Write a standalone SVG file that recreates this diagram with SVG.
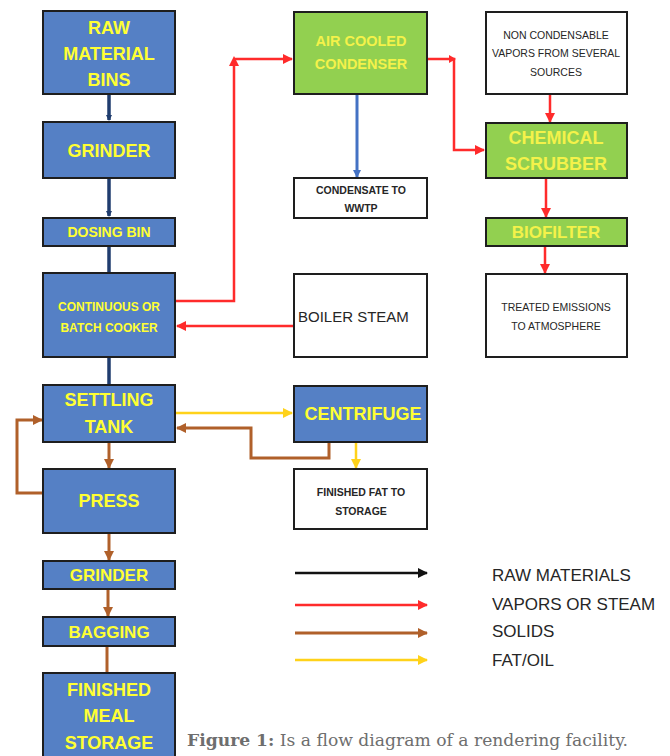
<svg xmlns="http://www.w3.org/2000/svg" width="670" height="756" viewBox="0 0 670 756">
<defs>
<style>
.bb{fill:#5580c5;stroke:#1e1e1e;stroke-width:2}
.gb{fill:#92d050;stroke:#1e1e1e;stroke-width:2}
.wb{fill:#ffffff;stroke:#1e1e1e;stroke-width:2}
.yt{font-family:"Liberation Sans",Arial,sans-serif;font-weight:bold;fill:#ffff33;text-anchor:middle}
.gt{font-family:"Liberation Sans",Arial,sans-serif;font-weight:bold;fill:#f4f24a;text-anchor:middle}
.dt{font-family:"Liberation Sans",Arial,sans-serif;fill:#262626;text-anchor:middle}
.st{font-family:"Liberation Sans",Arial,sans-serif;fill:#262626;text-anchor:start}
.lg{font-family:"Liberation Sans",Arial,sans-serif;font-size:17px;fill:#262626}
.c{fill:none;stroke-width:2.5}
.nv{stroke:#1f3c6e;stroke-width:3.5}
.bl{stroke:#4472c4;stroke-width:3}
.rd{stroke:#ff2b2b}
.br{stroke:#b0602a;stroke-width:3}
.ye{stroke:#ffd21a}
.k{stroke:#111}
</style>
<marker id="mnv" markerWidth="6" markerHeight="6" refX="5" refY="3" orient="auto" markerUnits="userSpaceOnUse"><path d="M0,0 L6,3 L0,6 z" fill="#1f3c6e"/></marker>
<marker id="mbl" markerWidth="8" markerHeight="8" refX="7" refY="4" orient="auto" markerUnits="userSpaceOnUse"><path d="M0,0 L8,4 L0,8 z" fill="#4472c4"/></marker>
<marker id="mrd" markerWidth="10" markerHeight="10" refX="9" refY="5" orient="auto" markerUnits="userSpaceOnUse"><path d="M0,0 L10,5 L0,10 z" fill="#ff2b2b"/></marker>
<marker id="mbr" markerWidth="10" markerHeight="10" refX="9" refY="5" orient="auto" markerUnits="userSpaceOnUse"><path d="M0,0 L10,5 L0,10 z" fill="#b0602a"/></marker>
<marker id="mye" markerWidth="10" markerHeight="10" refX="9" refY="5" orient="auto" markerUnits="userSpaceOnUse"><path d="M0,0 L10,5 L0,10 z" fill="#ffd21a"/></marker>
<marker id="mk" markerWidth="10" markerHeight="10" refX="9" refY="5" orient="auto" markerUnits="userSpaceOnUse"><path d="M0,0 L10,5 L0,10 z" fill="#111"/></marker>
</defs>
<rect width="670" height="756" fill="#ffffff"/>

<g id="connectors">
<line class="c nv" x1="109" y1="95" x2="109" y2="120" marker-end="url(#mnv)"/>
<line class="c nv" x1="109" y1="179" x2="109" y2="216" marker-end="url(#mnv)"/>
<line class="c nv" x1="109" y1="247" x2="109" y2="272"/>
<line class="c nv" x1="109" y1="358" x2="109" y2="384"/>
<line class="c br" x1="109" y1="443" x2="109" y2="468" marker-end="url(#mbr)"/>
<line class="c br" x1="109" y1="534" x2="109" y2="560" marker-end="url(#mbr)"/>
<line class="c br" x1="108" y1="590" x2="108" y2="616" marker-end="url(#mbr)"/>
<line class="c br" x1="107" y1="647" x2="107" y2="672"/>
<polyline class="c br" points="43,493 17,493 17,420 42,420" marker-end="url(#mbr)"/>
<polyline class="c rd" points="176,301 234,301 234,61"/>
<path d="M229,66 L234,56 L239,66 z" fill="#ff2b2b"/>
<polyline class="c rd" points="234,59 292,59" marker-end="url(#mrd)"/>
<polyline class="c rd" points="428,59 454,59 454,150 484,150" marker-end="url(#mrd)"/>
<path d="M449,55 L456,59 L449,63 z" fill="#ff2b2b"/>
<line class="c bl" x1="357" y1="95" x2="357" y2="177" marker-end="url(#mbl)"/>
<line class="c rd" x1="550" y1="95" x2="550" y2="122" marker-end="url(#mrd)"/>
<line class="c rd" x1="546" y1="179" x2="546" y2="217" marker-end="url(#mrd)"/>
<line class="c rd" x1="545" y1="247" x2="545" y2="273" marker-end="url(#mrd)"/>
<line class="c rd" x1="293" y1="326" x2="177" y2="326" marker-end="url(#mrd)"/>
<line class="c ye" x1="176" y1="413" x2="292" y2="413" marker-end="url(#mye)"/>
<polyline class="c br" points="329,443 329,458 251,458 251,428 177,428" marker-end="url(#mbr)"/>
<line class="c ye" x1="356" y1="443" x2="356" y2="468" marker-end="url(#mye)"/>
<line class="c k" x1="295" y1="573" x2="427" y2="573" stroke-width="2" marker-end="url(#mk)"/>
<line class="c rd" x1="295" y1="605" x2="427" y2="605" marker-end="url(#mrd)"/>
<line class="c br" x1="295" y1="633" x2="427" y2="633" marker-end="url(#mbr)"/>
<line class="c ye" x1="295" y1="660" x2="427" y2="660" marker-end="url(#mye)"/>
</g>

<g id="raw-material-bins"><rect class="bb" x="43" y="11" width="132" height="83"/>
<text class="yt" font-size="18" x="109" y="34">RAW</text><text class="yt" font-size="18" x="109" y="60">MATERIAL</text><text class="yt" font-size="18" x="109" y="86">BINS</text></g>
<g id="grinder1"><rect class="bb" x="43" y="122" width="132" height="56"/><text class="yt" font-size="18" x="109" y="157">GRINDER</text></g>
<g id="dosing-bin"><rect class="bb" x="43" y="218" width="132" height="28"/><text class="yt" font-size="14" x="109" y="237">DOSING BIN</text></g>
<g id="cooker"><rect class="bb" x="43" y="273" width="132" height="84"/><text class="yt" font-size="12" x="109" y="311">CONTINUOUS OR</text><text class="yt" font-size="12" x="109" y="332">BATCH COOKER</text></g>
<g id="settling-tank"><rect class="bb" x="43" y="385" width="132" height="57"/><text class="yt" font-size="18" x="109" y="406">SETTLING</text><text class="yt" font-size="18" x="109" y="433">TANK</text></g>
<g id="press"><rect class="bb" x="43" y="469" width="132" height="64"/><text class="yt" font-size="18" x="109" y="507">PRESS</text></g>
<g id="grinder2"><rect class="bb" x="43" y="561" width="132" height="28"/><text class="yt" font-size="17" x="109" y="581">GRINDER</text></g>
<g id="bagging"><rect class="bb" x="43" y="617" width="132" height="29"/><text class="yt" font-size="17" x="109" y="638">BAGGING</text></g>
<g id="finished-meal-storage"><rect class="bb" x="43" y="673" width="132" height="90"/><text class="yt" font-size="18" x="109" y="696">FINISHED</text><text class="yt" font-size="18" x="109" y="722">MEAL</text><text class="yt" font-size="18" x="109" y="749">STORAGE</text></g>

<g id="air-cooled-condenser"><rect class="gb" x="294" y="12" width="133" height="82"/><text class="gt" font-size="14.5" x="361" y="46">AIR COOLED</text><text class="gt" font-size="14.5" x="361" y="69">CONDENSER</text></g>
<g id="condensate"><rect class="wb" x="294" y="178" width="133" height="40"/><text class="dt" font-weight="bold" font-size="10.5" x="361" y="194">CONDENSATE TO</text><text class="dt" font-weight="bold" font-size="10.5" x="361" y="212">WWTP</text></g>
<g id="boiler-steam"><rect class="wb" x="294" y="274" width="133" height="83"/><text class="st" font-size="15" x="298" y="322">BOILER STEAM</text></g>
<g id="centrifuge"><rect class="bb" x="294" y="386" width="133" height="56"/><text class="yt" font-size="18" x="363" y="420">CENTRIFUGE</text></g>
<g id="finished-fat"><rect class="wb" x="294" y="469" width="133" height="60"/><text class="dt" font-weight="bold" font-size="10.5" x="361" y="496">FINISHED FAT TO</text><text class="dt" font-weight="bold" font-size="10.5" x="361" y="515">STORAGE</text></g>

<g id="non-condensable"><rect class="wb" x="486" y="12" width="141" height="82"/><text class="dt" font-size="10.5" x="556" y="39">NON CONDENSABLE</text><text class="dt" font-size="10.5" x="556" y="57">VAPORS FROM SEVERAL</text><text class="dt" font-size="10.5" x="556" y="76">SOURCES</text></g>
<g id="chemical-scrubber"><rect class="gb" x="486" y="123" width="141" height="55"/><text class="gt" font-size="18" x="556" y="144">CHEMICAL</text><text class="gt" font-size="18" x="556" y="170">SCRUBBER</text></g>
<g id="biofilter"><rect class="gb" x="486" y="218" width="141" height="28"/><text class="gt" font-size="17" x="556" y="238">BIOFILTER</text></g>
<g id="treated-emissions"><rect class="wb" x="486" y="274" width="141" height="83"/><text class="dt" font-size="10.5" x="556" y="311">TREATED EMISSIONS</text><text class="dt" font-size="10.5" x="556" y="330">TO ATMOSPHERE</text></g>

<g id="legend">
<text class="lg" x="492" y="581">RAW MATERIALS</text>
<text class="lg" x="492" y="610">VAPORS OR STEAM</text>
<text class="lg" x="492" y="637">SOLIDS</text>
<text class="lg" x="492" y="666">FAT/OIL</text>
</g>
<text x="187" y="746" font-family="DejaVu Serif,serif" font-size="17" fill="#6e6e6e" textLength="441" lengthAdjust="spacingAndGlyphs"><tspan font-weight="bold">Figure 1:</tspan> Is a flow diagram of a rendering facility.</text>
</svg>
